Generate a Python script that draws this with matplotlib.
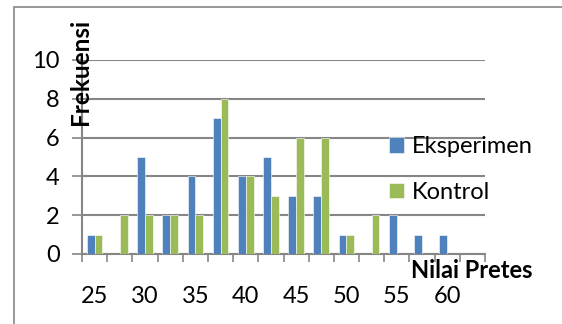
import numpy as np
import matplotlib.pyplot as plt
from matplotlib.patches import Rectangle

# frequency of pretest scores per class interval
kelas = ['25', '27.5', '30', '32.5', '35', '37.5', '40', '42.5',
         '45', '47.5', '50', '52.5', '55', '57.5', '60', '62.5']
eksperimen = [1, 0, 5, 2, 4, 7, 4, 5, 3, 3, 1, 0, 2, 1, 1, 0]
kontrol = [1, 2, 2, 2, 2, 8, 4, 3, 6, 6, 1, 2, 0, 0, 0, 0]

plt.rcParams['font.family'] = ['Lato', 'DejaVu Sans']
grey = '#868686'
blue = '#4F81BD'
green = '#9BBB59'

W, H = 562, 324
fig = plt.figure(figsize=(W / 100, H / 100), dpi=100)

# outer chart border
fig.patches.append(Rectangle((14 / W, -0.5), 5, (H - 7) / H + 0.5,
                             transform=fig.transFigure, fill=False,
                             edgecolor=grey, linewidth=1.2))

ax = fig.add_axes([82 / W, 70 / H, 403 / W, 194 / H])
x = np.arange(len(kelas))
w = 0.31
ax.bar(x - w / 2, eksperimen, w, color=blue, edgecolor='white', linewidth=0.4,
       label='Eksperimen', zorder=3)
ax.bar(x + w / 2, kontrol, w, color=green, edgecolor='white', linewidth=0.4,
       label='Kontrol', zorder=3)

ax.set_xlim(-0.5, len(kelas) - 0.5)
ax.set_ylim(0, 10)
ax.set_yticks(range(0, 11, 2))
ax.yaxis.grid(True, color=grey, linewidth=1.5, zorder=0)
ax.tick_params(axis='y', length=7, width=1.2, color=grey, pad=9, labelsize=17)

# labels on every other class, tick marks at class boundaries
ax.set_xticks(x[::2])
ax.set_xticklabels(kelas[::2])
ax.set_xticks(np.arange(-0.5, len(kelas), 1), minor=True)
ax.tick_params(axis='x', which='major', length=0, pad=23, labelsize=17)
ax.tick_params(axis='x', which='minor', length=6, width=1.2, color=grey)

for s in ['top', 'right']:
    ax.spines[s].set_visible(False)
for s in ['left', 'bottom']:
    ax.spines[s].set_color(grey)
    ax.spines[s].set_linewidth(1.5)

fig.text(80 / W, 1 - 72 / H, 'Frekuensi', rotation=90, ha='center', va='center',
         fontsize=17.5, fontweight='bold')
fig.text(472 / W, 1 - 270 / H, 'Nilai Pretes', ha='center', va='center',
         fontsize=17, fontweight='bold')

ax.legend(loc='upper left', bbox_to_anchor=(389 / W, 1 - 136 / H),
          bbox_transform=fig.transFigure, frameon=False, fontsize=17,
          handlelength=0.65, handleheight=0.65, handletextpad=0.3,
          labelspacing=1.05, borderpad=0, borderaxespad=0)

fig.savefig('out.png', dpi=100)
